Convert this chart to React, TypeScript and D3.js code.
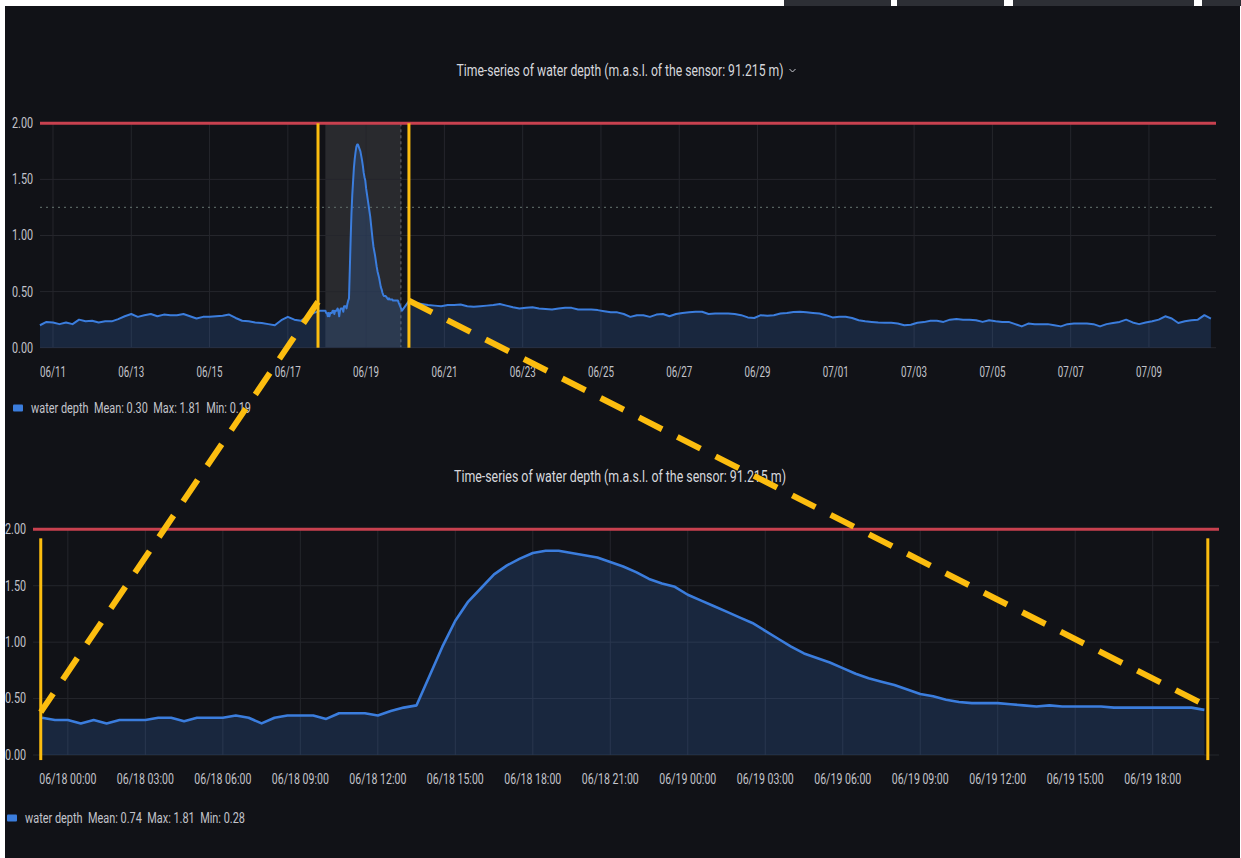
import React from "react";
import * as d3 from "d3";

// ---- data ----
const YEAR = 2022;
const t = (mo: number, day: number, h = 0, m = 0) => new Date(Date.UTC(YEAR, mo - 1, day, h, m));
const HOUR = 3600e3;

// top panel, 4-hourly samples before the event (from 06/10 16:00)
const topBeforeStart = t(6, 10, 16);
const topBefore = [
  0.2, 0.23, 0.225, 0.21, 0.225, 0.21, 0.25, 0.235,
  0.24, 0.225, 0.235, 0.235, 0.255, 0.28,
  0.3, 0.275, 0.29, 0.3, 0.28, 0.295,
  0.29, 0.29, 0.3, 0.28, 0.26, 0.275,
  0.275, 0.28, 0.285, 0.295, 0.265, 0.24,
  0.235, 0.225, 0.22, 0.21, 0.2, 0.245,
  0.275, 0.25, 0.24, 0.28, 0.31, 0.33,
];

// zoomed window, 30-minute samples (from 06/17 23:00)
const zoomStart = t(6, 17, 23);
const zoomDepth = [
  0.33, 0.31, 0.31, 0.28, 0.31, 0.28, 0.31, 0.31, 0.31, 0.33,
  0.33, 0.3, 0.33, 0.33, 0.33, 0.35, 0.33, 0.28, 0.33, 0.35,
  0.35, 0.35, 0.32, 0.37, 0.37, 0.37, 0.35, 0.39, 0.42, 0.44,
  0.7, 0.96, 1.19, 1.36, 1.48, 1.6, 1.68, 1.74, 1.79, 1.81,
  1.81, 1.79, 1.77, 1.75, 1.71, 1.67, 1.62, 1.56, 1.52, 1.49,
  1.42, 1.37, 1.32, 1.27, 1.22, 1.17, 1.1, 1.03, 0.96, 0.9,
  0.86, 0.82, 0.77, 0.72, 0.68, 0.65, 0.62, 0.58, 0.54, 0.52,
  0.49, 0.47, 0.46, 0.46, 0.46, 0.45, 0.44, 0.43, 0.44, 0.43,
  0.43, 0.43, 0.43, 0.42, 0.42, 0.42, 0.42, 0.42, 0.42, 0.42,
  0.4,
];

// top panel, 4-hourly samples after the event (from 06/19 22:00)
const topAfterStart = t(6, 19, 22);
const topAfter = [
  0.33, 0.41, 0.4, 0.39, 0.38, 0.375, 0.37, 0.38, 0.38, 0.385,
  0.37, 0.365, 0.37, 0.375, 0.38, 0.39, 0.375, 0.36, 0.35, 0.355,
  0.36, 0.35, 0.345, 0.34, 0.35, 0.355, 0.355, 0.34, 0.34, 0.34,
  0.335, 0.325, 0.315, 0.315, 0.3, 0.275, 0.29, 0.29, 0.275, 0.295,
  0.3, 0.28, 0.3, 0.31, 0.315, 0.32, 0.32, 0.3, 0.305, 0.305,
  0.305, 0.3, 0.29, 0.27, 0.265, 0.29, 0.285, 0.29, 0.305, 0.31,
  0.318, 0.32, 0.315, 0.31, 0.305, 0.29, 0.27, 0.275, 0.275, 0.265,
  0.245, 0.235, 0.23, 0.225, 0.223, 0.223, 0.215, 0.2, 0.205, 0.223,
  0.228, 0.24, 0.24, 0.23, 0.25, 0.255, 0.25, 0.25, 0.245, 0.23,
  0.245, 0.235, 0.23, 0.23, 0.21, 0.19, 0.215, 0.21, 0.21, 0.21,
  0.2, 0.19, 0.21, 0.216, 0.216, 0.215, 0.21, 0.19, 0.21, 0.22,
  0.23, 0.25, 0.225, 0.21, 0.225, 0.235, 0.25, 0.28, 0.26, 0.22,
  0.235, 0.245, 0.25, 0.29, 0.26,
];

const yTicks = [0, 0.5, 1, 1.5, 2];
const threshold = 2.0;
const dottedLevel = 1.25;
const topTickLabels = ["06/11", "06/13", "06/15", "06/17", "06/19", "06/21", "06/23", "06/25", "06/27", "06/29", "07/01", "07/03", "07/05", "07/07", "07/09"];
const bottomTickLabels = [
  "06/18 00:00", "06/18 03:00", "06/18 06:00", "06/18 09:00", "06/18 12:00",
  "06/18 15:00", "06/18 18:00", "06/18 21:00", "06/19 00:00", "06/19 03:00",
  "06/19 06:00", "06/19 09:00", "06/19 12:00", "06/19 15:00", "06/19 18:00",
];
const title = "Time-series of water depth (m.a.s.l. of the sensor: 91.215 m)";
const topLegend = "water depth  Mean: 0.30  Max: 1.81  Min: 0.19";
const bottomLegend = "water depth  Mean: 0.74  Max: 1.81  Min: 0.28";

// annotation (time, value) anchors
const shadedRange = [t(6, 17, 23), t(6, 19, 21, 20)];
const topFrame = [t(6, 17, 18, 30), t(6, 20, 2, 15)];
const topFrameLevels = [0.41, 0.42];
const bottomFrame = [t(6, 17, 22, 57), t(6, 19, 20, 8)];
const bottomFrameLevels = [0.38, 0.43];
const bottomFrameSpan = [1.92, -0.045];

type Pt = { t: Date; v: number };
const series = (start: Date, stepH: number, vals: number[]): Pt[] =>
  vals.map((v, i) => ({ t: new Date(start.getTime() + i * stepH * HOUR), v }));

const zoomSeries = series(zoomStart, 0.5, zoomDepth);
const topSeries = [
  ...series(topBeforeStart, 4, topBefore),
  ...zoomSeries,
  ...series(topAfterStart, 4, topAfter),
];

const parseDay = d3.utcParse("%Y/%m/%d");
const parseHour = d3.utcParse("%Y/%m/%d %H:%M");

const BG = "#111217";
const GRID = "#25262c";
const TEXT = "#c3c4cb";
const BLUE = "#3b7ddd";
const RED = "#c8414f";
const YELLOW = "#fcbd0f";
const FONT = "Roboto, 'Noto Sans', sans-serif";

function Panel({
  data, x, y, ticks, labels, labelW, titleY, titleW, legendY, legendX, legend, dotted, chevron, lineW,
}: any) {
  const [x0, x1] = x.range();
  const line = d3.line<Pt>().x((d) => x(d.t)).y((d) => y(d.v));
  const area = d3.area<Pt>().x((d) => x(d.t)).y0(y(0)).y1((d) => y(d.v));
  const tickY = y(0) + 24;
  return (
    <g fontFamily={FONT}>
      <text x={620} y={titleY} textAnchor="middle" dy="0.35em" fontSize={16} fill="#d6d7dc"
        textLength={titleW} lengthAdjust="spacingAndGlyphs">{title}</text>
      {chevron && (
        <path d={`M${620 + titleW / 2 + 6},${titleY - 1} l3,3 l3,-3`} fill="none" stroke="#c8c9d0" strokeWidth={1} />
      )}
      {yTicks.map((v) => (
        <g key={v}>
          {v < threshold && <line x1={x0} x2={x1} y1={y(v)} y2={y(v)} stroke={GRID} />}
          <text x={x0 - 7} y={y(v)} dy="0.35em" textAnchor="end" fontSize={14} fill={TEXT}
            textLength={21} lengthAdjust="spacingAndGlyphs">{d3.format(".2f")(v)}</text>
        </g>
      ))}
      {ticks.map((d: Date, i: number) => (
        <g key={i}>
          <line x1={x(d)} x2={x(d)} y1={y(2)} y2={y(0)} stroke={GRID} />
          <text x={x(d)} y={tickY} dy="0.35em" textAnchor="middle" fontSize={14} fill={TEXT}
            textLength={labelW} lengthAdjust="spacingAndGlyphs">{labels[i]}</text>
        </g>
      ))}
      {dotted && (
        <line x1={x0} x2={x1} y1={y(dottedLevel)} y2={y(dottedLevel)} stroke="#56625f" strokeWidth={1.2} strokeDasharray="2 4" />
      )}
      <path d={area(data) || ""} fill={BLUE} fillOpacity={0.2} />
      <path d={line(data) || ""} fill="none" stroke={BLUE} strokeWidth={lineW} strokeLinejoin="round" />
      <line x1={x0} x2={x1} y1={y(threshold)} y2={y(threshold)} stroke={RED} strokeWidth={3} />
      <rect x={legendX} y={legendY - 3.5} width={10} height={7} rx={1} fill={BLUE} />
      <text x={legendX + 18} y={legendY} dy="0.35em" fontSize={14} fill={TEXT} style={{ whiteSpace: "pre" }}
        textLength={220} lengthAdjust="spacingAndGlyphs">{legend}</text>
    </g>
  );
}

export default function App() {
  const topX = d3.scaleUtc().domain([t(6, 10, 16, 2), t(7, 10, 17, 7)]).range([40, 1216]);
  const topY = d3.scaleLinear().domain([0, 2]).range([347.7, 123.3]);
  const botX = d3.scaleUtc().domain([t(6, 17, 22, 39), t(6, 19, 20, 34)]).range([33, 1219]);
  const botY = d3.scaleLinear().domain([0, 2]).range([755, 529.3]);

  const topTicks = topTickLabels.map((s) => parseDay(`${YEAR}/${s}`) as Date);
  const botTicks = bottomTickLabels.map((s) => parseHour(`${YEAR}/${s}`) as Date);

  return (
    <div style={{ position: "absolute", left: 0, top: 0 }}>
      <svg width={1241} height={858} style={{ display: "block" }}>
        <rect width={1241} height={858} fill="#ffffff" />
        <rect x={5} y={6} width={1235} height={852} fill={BG} />
        {[[784, 107], [897, 107], [1013, 181], [1202, 39]].map(([bx, bw], i) => (
          <rect key={i} x={bx} y={0} width={bw} height={6} fill="#2d2f35" />
        ))}

        {/* shaded zoom range in top panel */}
        <rect x={topX(shadedRange[0])} y={topY(2)} width={topX(shadedRange[1]) - topX(shadedRange[0])}
          height={topY(0) - topY(2)} fill="#ffffff" fillOpacity={0.1} />
        <line x1={topX(shadedRange[1])} x2={topX(shadedRange[1])} y1={topY(2)} y2={topY(0)}
          stroke="#6b6d75" strokeDasharray="3 3" />

        <Panel data={topSeries} x={topX} y={topY} ticks={topTicks} labels={topTickLabels} labelW={26}
          titleY={70} titleW={327} legendY={408} legendX={13} legend={topLegend} dotted chevron lineW={2} />
        <Panel data={zoomSeries} x={botX} y={botY} ticks={botTicks} labels={bottomTickLabels} labelW={57}
          titleY={476} titleW={332} legendY={818} legendX={7} legend={bottomLegend} lineW={2.6} />

        {/* yellow annotations */}
        <g stroke={YELLOW} fill="none">
          {topFrame.map((d, i) => (
            <line key={"tf" + i} x1={topX(d)} x2={topX(d)} y1={topY(2)} y2={topY(0)} strokeWidth={3} />
          ))}
          {bottomFrame.map((d, i) => (
            <line key={"bf" + i} x1={botX(d)} x2={botX(d)} y1={botY(bottomFrameSpan[0])} y2={botY(bottomFrameSpan[1])} strokeWidth={3} />
          ))}
          {topFrame.map((d, i) => (
            <line key={"dc" + i} x1={topX(d)} y1={topY(topFrameLevels[i])}
              x2={botX(bottomFrame[i])} y2={botY(bottomFrameLevels[i])}
              strokeWidth={6} strokeDasharray="26 17" />
          ))}
        </g>
      </svg>
    </div>
  );
}
